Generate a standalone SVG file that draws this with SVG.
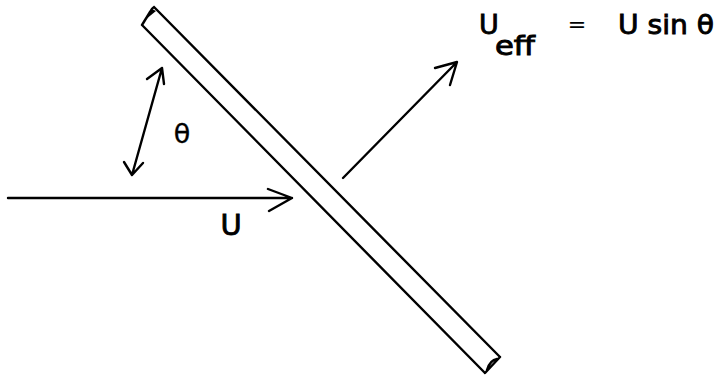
<svg xmlns="http://www.w3.org/2000/svg" width="720" height="378" viewBox="0 0 720 378">
<style>
.ln{fill:none;stroke:#000;stroke-width:2.4;stroke-linecap:round;stroke-linejoin:round}
.tx{font-family:"DejaVu Sans","Liberation Sans",sans-serif;fill:#000;stroke:#000;stroke-width:0.9}
</style>
<rect width="720" height="378" fill="#fff"/>
<g id="plate">
<path class="ln" d="M142,25 L485,373 M154,7 L500,357 M142,25 L150,12 Q152,8 154,7 M485,373 L500,357 M487,370 Q490,360 497,359"/>
<path d="M145,20 L152,9 L156,11 Z" fill="#000"/>
</g>
<g id="connectors">
<path class="ln" d="M8,198 L292,198 M268,189 L292,198 L269,211"/>
<path class="ln" d="M132,175 L162,68 M147,79 L162,68 L164,84 M124,162 L132,175 L143,163"/>
<path class="ln" d="M343,178 L457,62 M435,68 L457,62 L450,85"/>
</g>
<g id="labels">
<text class="tx" x="231" y="235" font-size="29" text-anchor="middle">U</text>
<text class="tx" x="182" y="143" font-size="27" text-anchor="middle" style="stroke-width:0.3">θ</text>
<text class="tx" x="479" y="34" font-size="27">U</text>
<text class="tx" x="495" y="55" font-size="26" textLength="40" lengthAdjust="spacingAndGlyphs">eff</text>
<text class="tx" x="577" y="32" font-size="22" text-anchor="middle" style="stroke-width:0.2">=</text>
<text class="tx" x="618" y="34" font-size="27" textLength="96" lengthAdjust="spacingAndGlyphs">U sin θ</text>
</g>
</svg>
